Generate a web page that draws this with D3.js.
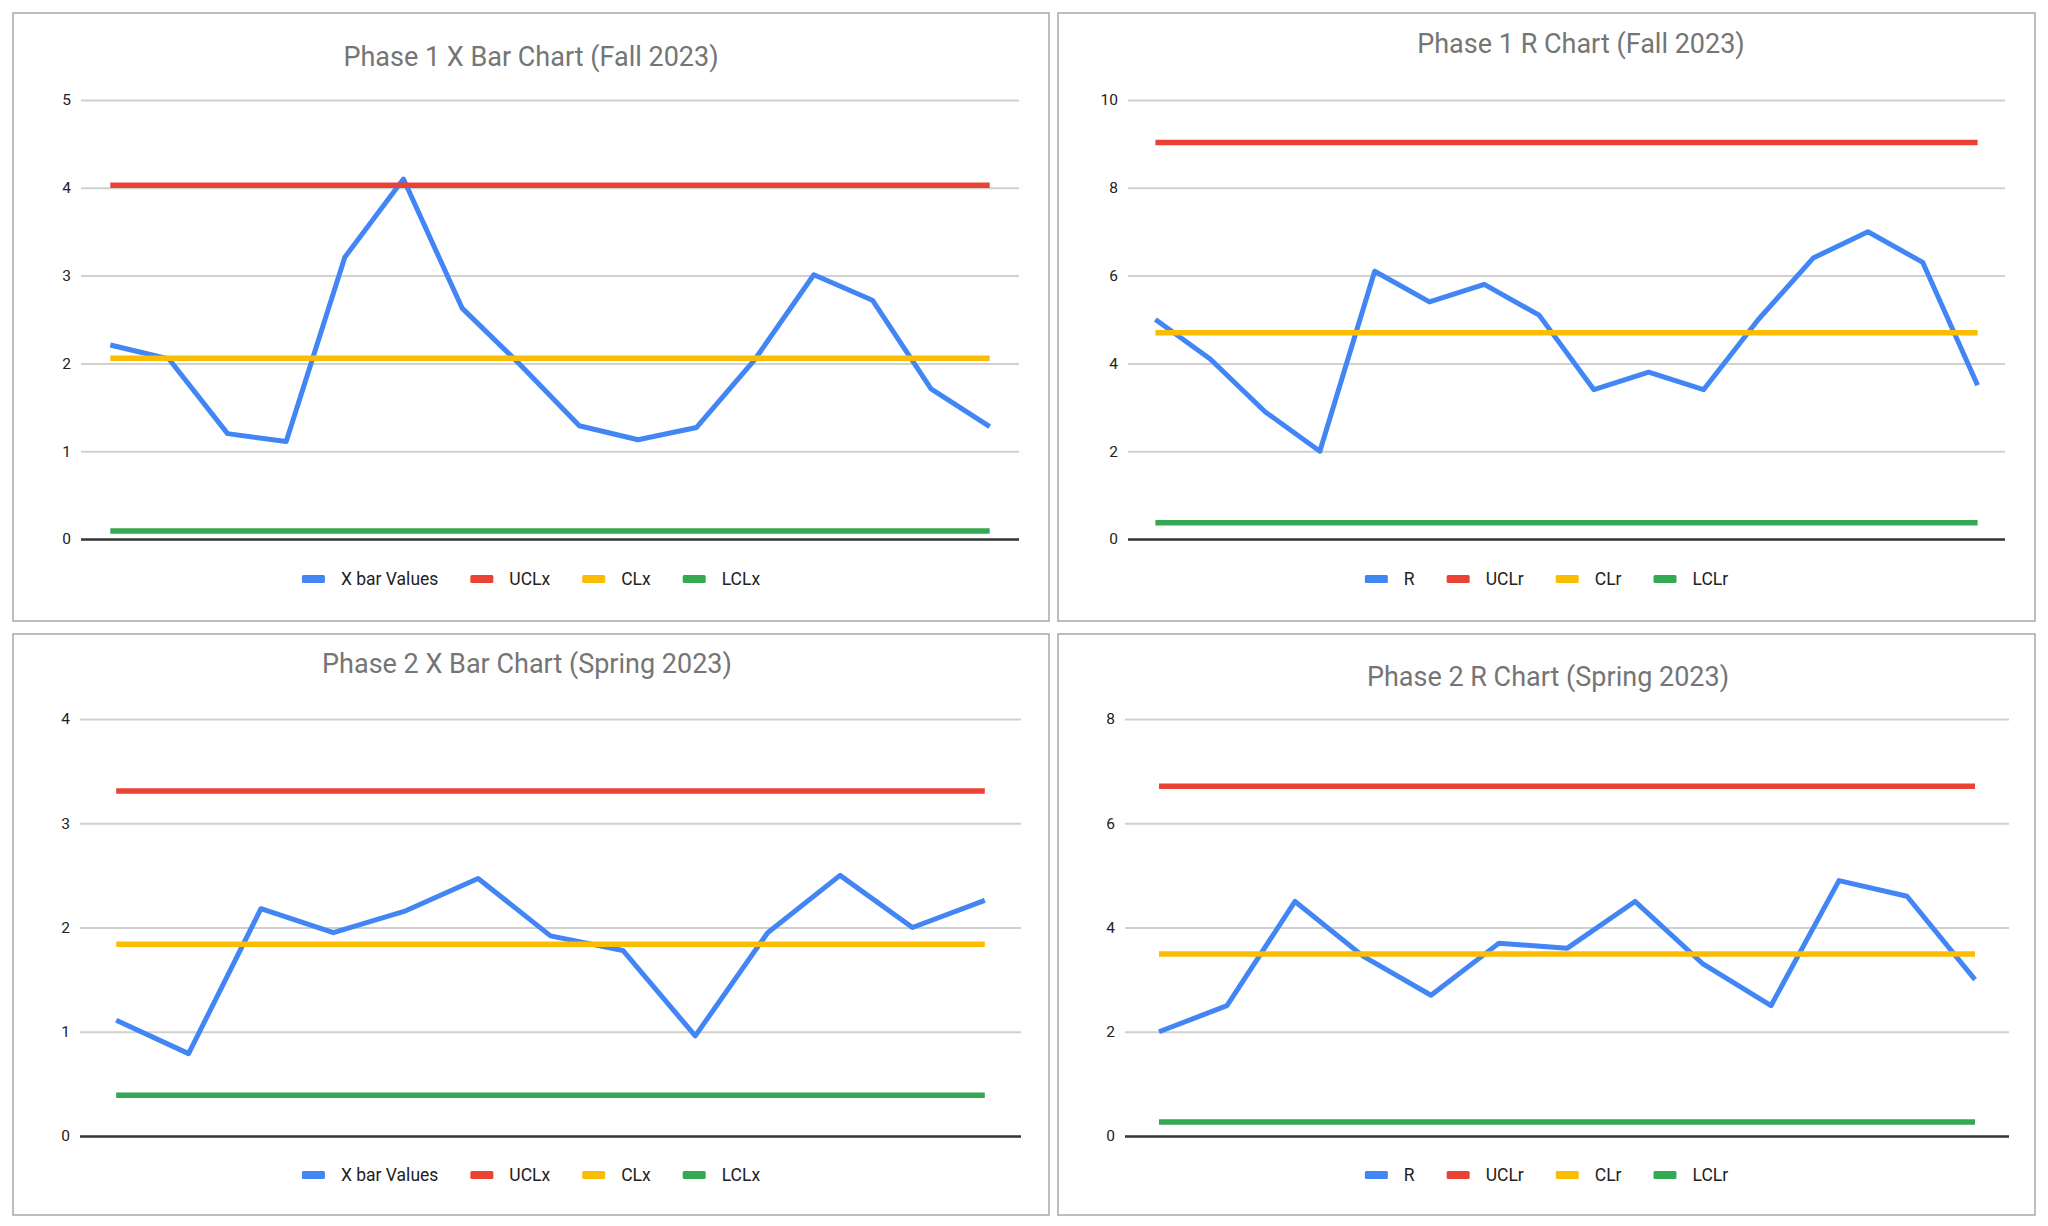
<!DOCTYPE html>
<html>
<head>
<meta charset="utf-8">
<script src="https://cdn.jsdelivr.net/npm/d3@7"></script>
<style>
  body { margin: 0; background: #fff; }
  text { font-family: Roboto, "Noto Sans", sans-serif; }
</style>
</head>
<body>
<script>
const WIDTH = 2048
const HEIGHT = 1226

// data
const phase1XbarValues = [2.21, 2.05, 1.2, 1.11, 3.21, 4.1, 2.63, 1.98, 1.29, 1.13, 1.27, 2.05, 3.01, 2.72, 1.71, 1.28]
const phase1XbarLimits = [4.03, 2.06, 0.09] // UCLx, CLx, LCLx
const phase1RValues = [5.0, 4.1, 2.9, 2.0, 6.1, 5.4, 5.8, 5.1, 3.4, 3.8, 3.4, 5.0, 6.4, 7.0, 6.3, 3.5]
const phase1RLimits = [9.03, 4.7, 0.37] // UCLr, CLr, LCLr
const phase2XbarValues = [1.11, 0.79, 2.18, 1.95, 2.16, 2.47, 1.92, 1.78, 0.96, 1.95, 2.5, 2.0, 2.26]
const phase2XbarLimits = [3.31, 1.84, 0.39]
const phase2RValues = [2.0, 2.5, 4.5, 3.45, 2.7, 3.7, 3.6, 4.5, 3.3, 2.5, 4.9, 4.6, 3.0]
const phase2RLimits = [6.71, 3.49, 0.27]

const xbarLegend = ['X bar Values', 'UCLx', 'CLx', 'LCLx']
const rLegend = ['R', 'UCLr', 'CLr', 'LCLr']
const xbarTicks1 = [0, 1, 2, 3, 4, 5]
const rTicks1 = [0, 2, 4, 6, 8, 10]
const xbarTicks2 = [0, 1, 2, 3, 4]
const rTicks2 = [0, 2, 4, 6, 8]

const COLORS = ['#4285F4', '#EA4335', '#FBBC04', '#34A853']

const panels = [
  { title: 'Phase 1 X Bar Chart (Fall 2023)', values: phase1XbarValues, limits: phase1XbarLimits, legend: xbarLegend, ticks: xbarTicks1,
    box: [13, 13, 1049, 621], px: [81, 1019], py: [539, 100], titlePos: [531, 66], legendY: 579 },
  { title: 'Phase 1 R Chart (Fall 2023)', values: phase1RValues, limits: phase1RLimits, legend: rLegend, ticks: rTicks1,
    box: [1058, 13, 2035, 621], px: [1128, 2005], py: [539, 100], titlePos: [1581, 53], legendY: 579 },
  { title: 'Phase 2 X Bar Chart (Spring 2023)', values: phase2XbarValues, limits: phase2XbarLimits, legend: xbarLegend, ticks: xbarTicks2,
    box: [13, 634, 1049, 1215], px: [80, 1021], py: [1136, 719], titlePos: [527, 673], legendY: 1175 },
  { title: 'Phase 2 R Chart (Spring 2023)', values: phase2RValues, limits: phase2RLimits, legend: rLegend, ticks: rTicks2,
    box: [1058, 634, 2035, 1215], px: [1125, 2009], py: [1136, 719], titlePos: [1548, 686], legendY: 1175 }
]

const svg = d3.select('body').append('svg')
  .attr('width', WIDTH)
  .attr('height', HEIGHT)

panels.forEach(drawPanel)

function drawPanel(p) {
  const g = svg.append('g')
  const [bx0, by0, bx1, by1] = p.box

  g.append('rect')
    .attr('x', bx0).attr('y', by0)
    .attr('width', bx1 - bx0).attr('height', by1 - by0)
    .attr('fill', '#fff')
    .attr('stroke', '#a8a8a8')
    .attr('stroke-width', 1.5)

  g.append('text')
    .attr('x', p.titlePos[0]).attr('y', p.titlePos[1])
    .attr('text-anchor', 'middle')
    .attr('font-size', 27)
    .attr('fill', '#757575')
    .text(p.title)

  const idx = d3.range(p.values.length)
  const x = d3.scalePoint().domain(idx).range(p.px).padding(0.5)
  const y = d3.scaleLinear().domain([0, d3.max(p.ticks)]).range(p.py)

  // grid + tick labels
  const yAxis = d3.axisLeft(y)
    .tickValues(p.ticks)
    .tickFormat(d3.format('d'))
    .tickSize(-(p.px[1] - p.px[0]))
    .tickPadding(10)
  const ax = g.append('g')
    .attr('transform', `translate(${p.px[0]},0)`)
    .call(yAxis)
  ax.select('.domain').remove()
  ax.selectAll('.tick line')
    .attr('stroke', (d) => d === 0 ? '#333' : '#d0d0d0')
    .attr('stroke-width', (d) => d === 0 ? 2.5 : 2)
  ax.selectAll('.tick text')
    .attr('font-size', 15.5)
    .attr('fill', '#222')
    .attr('font-family', 'Roboto, sans-serif')

  // series
  const line = d3.line().x((d, i) => x(i)).y((d) => y(d))
  g.append('path')
    .datum(p.values)
    .attr('fill', 'none')
    .attr('stroke', COLORS[0])
    .attr('stroke-width', 5)
    .attr('stroke-linejoin', 'round')
    .attr('d', line)

  p.limits.forEach((v, k) => {
    g.append('path')
      .datum(idx.map(() => v))
      .attr('fill', 'none')
      .attr('stroke', COLORS[k + 1])
      .attr('stroke-width', 5.5)
      .attr('d', line)
  })

  // legend
  const lg = g.append('g')
  let cx = 0
  p.legend.forEach((name, k) => {
    lg.append('rect')
      .attr('x', cx).attr('y', -4)
      .attr('width', 23).attr('height', 8)
      .attr('rx', 1.5)
      .attr('fill', COLORS[k])
    const t = lg.append('text')
      .attr('x', cx + 39).attr('y', 6)
      .attr('font-size', 17.5)
      .attr('fill', '#222')
      .text(name)
    cx += 39 + t.node().getComputedTextLength() + 32
  })
  cx -= 32
  const mid = (bx0 + bx1) / 2
  lg.attr('transform', `translate(${mid - cx / 2},${p.legendY})`)
}
</script>
</body>
</html>
